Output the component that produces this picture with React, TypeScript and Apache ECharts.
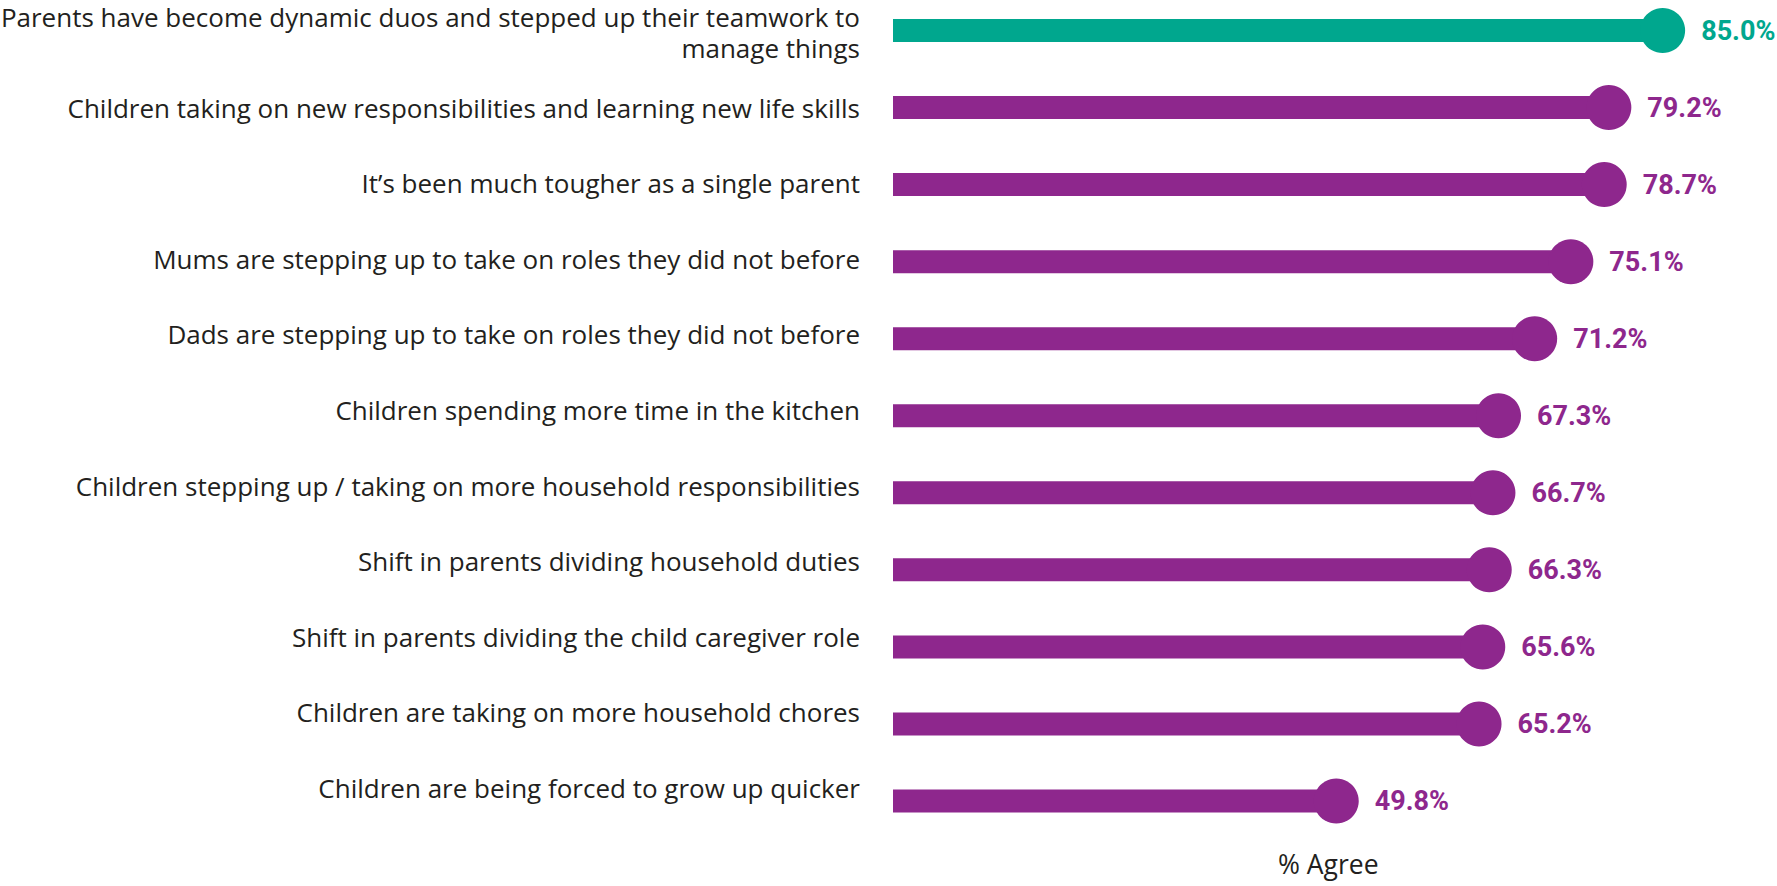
import React, { useEffect, useRef } from "react";
import * as echarts from "echarts";

const categories = [
  "Parents have become dynamic duos and stepped up their teamwork to\nmanage things",
  "Children taking on new responsibilities and learning new life skills",
  "It’s been much tougher as a single parent",
  "Mums are stepping up to take on roles they did not before",
  "Dads are stepping up to take on roles they did not before",
  "Children spending more time in the kitchen",
  "Children stepping up / taking on more household responsibilities",
  "Shift in parents dividing household duties",
  "Shift in parents dividing the child caregiver role",
  "Children are taking on more household chores",
  "Children are being forced to grow up quicker",
];

const agreeValues = [85.0, 79.2, 78.7, 75.1, 71.2, 67.3, 66.7, 66.3, 65.6, 65.2, 49.8];

const axisName = "% Agree";

const TEAL = "#00A78E";
const PURPLE = "#8E278D";
const TEXT = "#231F20";
const LABEL_FONT = "Open Sans";
const VALUE_FONT = "Roboto";

export default function App() {
  const ref = useRef<HTMLDivElement>(null);

  useEffect(() => {
    document.body.style.margin = "0";
    if (!ref.current) return;
    const chart = echarts.init(ref.current, undefined, { renderer: "svg" });
    const colorFor = (i: number) => (i === 0 ? TEAL : PURPLE);
    const option: any = {
      animation: false,
      backgroundColor: "#ffffff",
      grid: [
        { left: 893, right: 68, top: 30.5, height: 770.5, containLabel: false, outerBoundsMode: "none" },
        { left: 893, right: 68, top: 32, height: 756, containLabel: false, outerBoundsMode: "none" },
      ],
      xAxis: [
        { type: "value", gridIndex: 0, min: 2, max: 90, show: false },
        { type: "value", gridIndex: 1, min: 2, max: 90, show: false },
      ],
      yAxis: [
        {
          type: "category",
          gridIndex: 0,
          data: categories,
          inverse: true,
          boundaryGap: false,
          axisLine: { show: false },
          axisTick: { show: false },
          axisLabel: { show: false },
          splitLine: { show: false },
        },
        {
          type: "category",
          gridIndex: 1,
          data: categories,
          inverse: true,
          boundaryGap: false,
          axisLine: { show: false },
          axisTick: { show: false },
          splitLine: { show: false },
          axisLabel: {
            show: true,
            margin: 33,
            fontFamily: LABEL_FONT,
            fontSize: 26,
            lineHeight: 31,
            color: TEXT,
            align: "right",
            interval: 0,
          },
        },
      ],
      series: [
        {
          type: "bar",
          xAxisIndex: 0,
          yAxisIndex: 0,
          data: agreeValues,
          barWidth: 23,
          clip: true,
          itemStyle: {
            color: (p: any) => colorFor(p.dataIndex),
          },
        },
        {
          type: "scatter",
          xAxisIndex: 0,
          yAxisIndex: 0,
          data: agreeValues.map((v, i) => ({
            value: [v, i],
            itemStyle: { color: colorFor(i) },
            label: { color: colorFor(i) },
          })),
          symbol: "circle",
          symbolSize: 45,
          clip: false,
          itemStyle: { opacity: 1 },
          label: {
            show: true,
            position: "right",
            distance: 16,
            fontFamily: VALUE_FONT,
            fontWeight: "bold",
            fontSize: 27,
            formatter: (p: any) => p.value[0].toFixed(1) + "%",
          },
        },
      ],
      graphic: [
        {
          type: "text",
          left: 1278,
          top: 850,
          style: {
            text: axisName,
            fontFamily: LABEL_FONT,
            fontSize: 26.5,
            fill: TEXT,
          },
        },
      ],
    };
    chart.setOption(option);
    return () => chart.dispose();
  }, []);

  return <div ref={ref} style={{ width: 1777, height: 886 }} />;
}
